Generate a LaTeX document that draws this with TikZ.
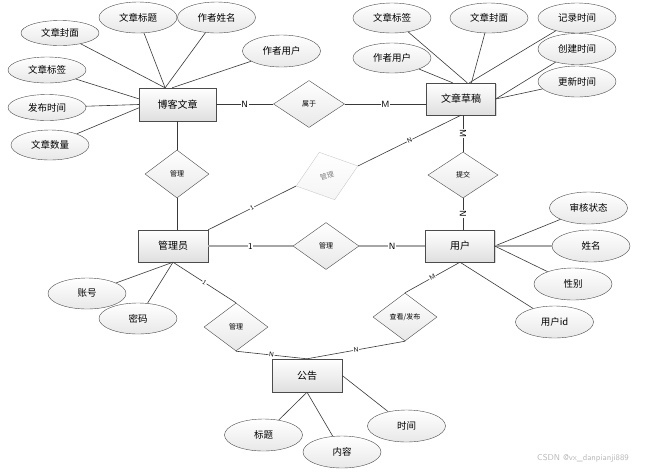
\documentclass[tikz,border=0pt]{standalone}
\usepackage{fontspec}
\newfontfamily\cjk{Noto Sans CJK SC}
\usetikzlibrary{shapes.geometric, calc, shadows}

\begin{document}
\begin{tikzpicture}[x=1pt, y=-1pt,
    entity/.style={rectangle, draw=gray!60!black, top color=white, bottom color=gray!25,
        drop shadow={shadow xshift=1pt, shadow yshift=-1pt, opacity=.3},
        minimum width=70pt, minimum height=32pt, font=\cjk\fontsize{10}{12}\selectfont},
    attr/.style={ellipse, draw=gray!60!black, top color=white, bottom color=gray!18,
        minimum width=78pt, minimum height=30pt, inner sep=0pt, font=\cjk\fontsize{9.5}{11}\selectfont},
    rel/.style={diamond, draw=gray!60!black, top color=white, bottom color=gray!18,
        minimum width=64pt, minimum height=48pt, inner sep=0pt, font=\cjk\fontsize{7}{8}\selectfont},
    link/.style={draw=gray!45!black, line width=0.6pt},
    card/.style={fill=white, inner sep=0.6pt, font=\sffamily\fontsize{9}{9}\selectfont},
    smallcard/.style={card, font=\sffamily\fontsize{6.5}{7}\selectfont}]

    \fill[white] (0,0) rectangle (667,475);
    \useasboundingbox (0,0) rectangle (667,475);

    % Entities
    \node[entity, minimum width=77pt, minimum height=33pt] (bk) at (177.5,104.5) {博客文章};
    \node[entity, minimum width=69pt] (cg) at (461,99) {文章草稿};
    \node[entity] (gly) at (173,246) {管理员};
    \node[entity, minimum width=69pt] (yh) at (460,246) {用户};
    \node[entity, minimum height=33pt] (gg) at (307,375.5) {公告};

    % Relationships
    \node[rel, minimum width=71pt, minimum height=47pt] (sy) at (309,104) {属于};
    \node[rel] (gla) at (177,174) {管理};
    \node[rel, minimum width=65pt, minimum height=50pt, rotate=18, draw=gray!40,
        bottom color=gray!8, text=gray] (glb) at (327,176) {管理};
    \node[rel, minimum width=70pt, minimum height=46pt] (tj) at (463,175) {提交};
    \node[rel, minimum width=66pt, minimum height=47pt] (glc) at (326,246) {管理};
    \node[rel] (gld) at (236,327) {管理};
    \node[rel] (fb) at (405,317) {查看/发布};

    % Attributes of 博客文章
    \node[attr, minimum height=25pt] (bk1) at (60,33) {文章封面};
    \node[attr, minimum height=31pt] (bk2) at (138,17.5) {文章标题};
    \node[attr, minimum height=31pt] (bk3) at (216.5,17.5) {作者姓名};
    \node[attr, minimum height=32pt] (bk4) at (281.5,51) {作者用户};
    \node[attr, minimum height=26pt] (bk5) at (47,70) {文章标签};
    \node[attr, minimum height=26pt] (bk6) at (47,107.5) {发布时间};
    \node[attr] (bk7) at (50,145) {文章数量};

    % Attributes of 文章草稿
    \node[attr] (cg1) at (392,18) {文章标签};
    \node[attr] (cg2) at (489,18) {文章封面};
    \node[attr] (cg3) at (577,18) {记录时间};
    \node[attr] (cg4) at (392,58) {作者用户};
    \node[attr, minimum height=31pt] (cg5) at (577,49) {创建时间};
    \node[attr, minimum height=31pt] (cg6) at (577,81.5) {更新时间};

    % Attributes of 管理员, 用户, 公告
    \node[attr, minimum height=31pt] (gly1) at (87,293.5) {账号};
    \node[attr, minimum height=31pt] (gly2) at (138,318.5) {密码};
    \node[attr, minimum height=32pt] (yh1) at (588.5,208) {审核状态};
    \node[attr, minimum height=32pt] (yh2) at (591,246) {姓名};
    \node[attr, minimum height=32pt] (yh3) at (573,284) {性别};
    \node[attr, minimum height=32pt] (yh4) at (554.5,322) {用户id};
    \node[attr, minimum height=32pt] (gg1) at (263.5,435) {标题};
    \node[attr, minimum height=32pt] (gg2) at (342,452) {内容};
    \node[attr, minimum height=32pt] (gg3) at (406.5,426) {时间};

    % Attribute lines
    \draw[link] (bk1) -- ($(bk.north west)!.34!(bk.north east)$);
    \draw[link] (bk2) -- ($(bk.north west)!.34!(bk.north east)$);
    \draw[link] (bk3) -- ($(bk.north west)!.34!(bk.north east)$);
    \draw[link] (bk4) -- ($(bk.north west)!.43!(bk.north east)$);
    \draw[link] (bk5) -- ($(bk.north west)!.33!(bk.south west)$);
    \draw[link] (bk6) -- (bk.west);
    \draw[link] (bk7) -- ($(bk.north west)!.6!(bk.south west)$);
    \draw[link] (cg1) -- ($(cg.north west)!.59!(cg.north east)$);
    \draw[link] (cg2) -- ($(cg.north west)!.65!(cg.north east)$);
    \draw[link] (cg3) -- ($(cg.north west)!.62!(cg.north east)$);
    \draw[link] (cg4) -- ($(cg.north west)!.38!(cg.north east)$);
    \draw[link] (cg5) -- (cg.east);
    \draw[link] (cg6) -- (cg.east);
    \draw[link] (gly1) -- (gly.south);
    \draw[link] (gly2) -- (gly.south);
    \draw[link] (yh1) -- (yh.east);
    \draw[link, line width=1.2pt, draw=gray!70] (yh2) -- (yh.east);
    \draw[link] (yh3) -- (yh.east);
    \draw[link] (yh4) -- (yh.south);
    \draw[link] (gg1) -- (gg.south);
    \draw[link] (gg2) -- (gg.south);
    \draw[link] (gg3) -- (gg.east);

    % Relationship lines with cardinalities
    \draw[link] (bk.east |- sy.west) -- node[card] {N} (sy.west);
    \draw[link] (sy.east) -- node[card] {M} (sy.east -| cg.west);
    \draw[link] (bk.south -| gla.north) -- (gla.north);
    \draw[link] (gla.south) -- (gla.south |- gly.north);
    \draw[link] (gly.north east) -- node[smallcard, sloped] {1} (glb.west);
    \draw[link] (glb.east) -- node[smallcard, sloped] {N} (cg.south);
    \draw[link] (tj.north |- cg.south) -- node[card, sloped] {M} (tj.north);
    \draw[link] (tj.south) -- node[card, sloped] {N} (tj.south |- yh.north);
    \draw[link, line width=1.2pt, draw=gray!70] (gly.east) -- node[card] {1} (glc.west);
    \draw[link, line width=1.2pt, draw=gray!70] (glc.east) -- node[card] {N} (yh.west);
    \draw[link] (gly.south) -- node[smallcard, sloped] {1} (gld.north);
    \draw[link] (gld.south) -- node[smallcard, sloped] {N} (gg.north);
    \draw[link] (yh.south) -- node[smallcard, sloped] {M} (fb.north);
    \draw[link] (fb.south) -- node[smallcard, sloped] {N} (gg.north);

    % Watermark
    \node[text=gray!55, font=\sffamily\fontsize{8.5}{9}\selectfont] (wm) at (583,458) {CSDN @vx\_danpianji889};
\end{tikzpicture}
\end{document}
